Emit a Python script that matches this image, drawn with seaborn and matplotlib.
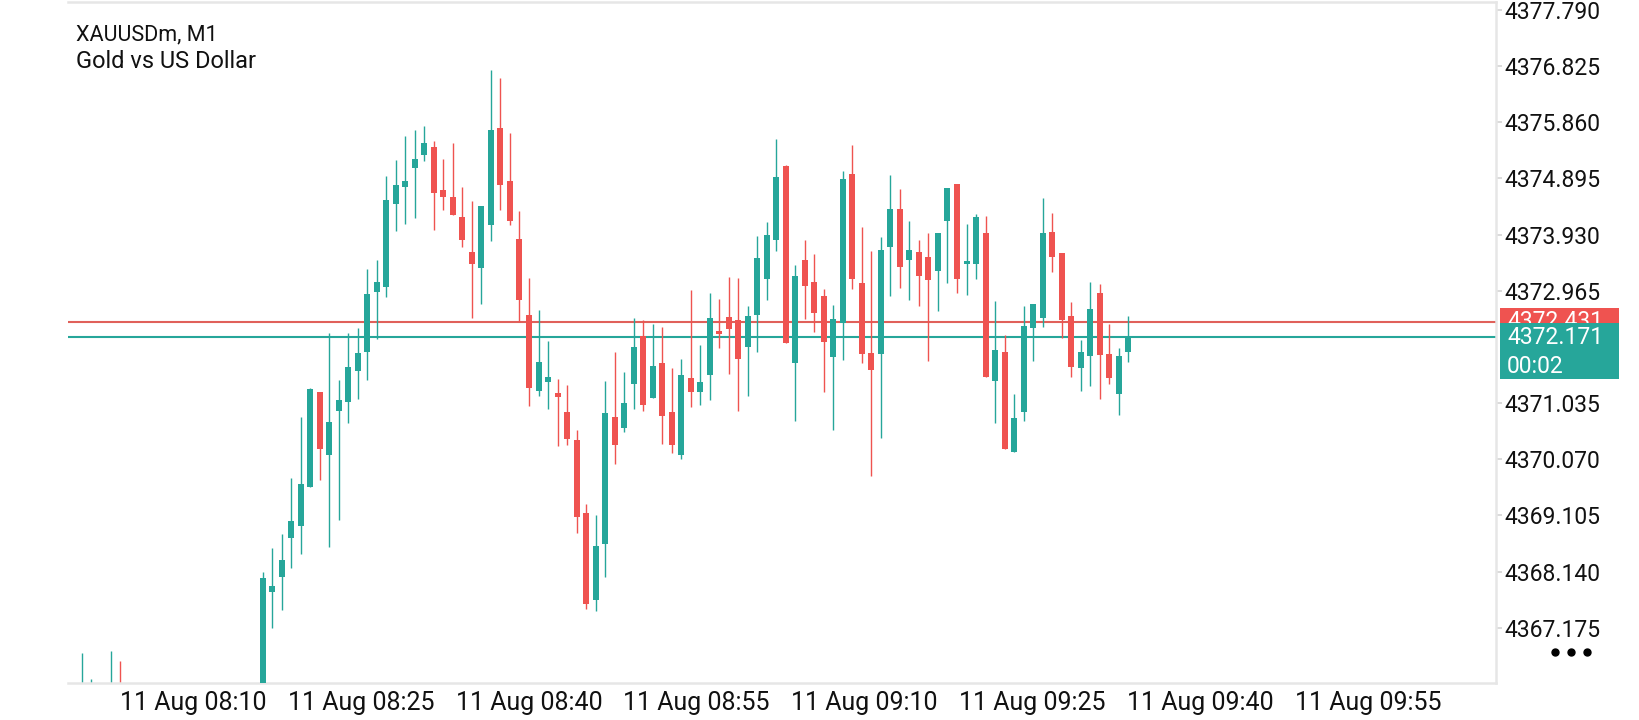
import numpy as np
import pandas as pd
import seaborn as sns
import matplotlib
matplotlib.use('Agg')
import matplotlib.pyplot as plt
from matplotlib.patches import Rectangle
import matplotlib.transforms as mtransforms

# XAUUSDm M1 candles, oldest first. nan = bar sits below the visible price range
opens = [4365.95, 4366.05, np.nan, 4365.98, 4366.12] + [np.nan] * 14 + [
    4365.90, 4367.79, 4368.05, 4368.71, 4368.93, 4369.60, 4371.22, 4370.15, 4370.90, 4371.06,
    4371.59, 4371.92, 4372.94, 4373.03, 4374.46, 4374.75, 4375.07, 4375.30, 4375.43, 4374.70,
    4374.58, 4374.23, 4373.63, 4373.36, 4374.10, 4375.77, 4374.85, 4373.85, 4372.55, 4371.25,
    4371.40, 4371.21, 4370.88, 4370.40, 4369.15, 4367.65, 4368.61, 4370.80, 4370.61, 4371.37,
    4372.18, 4371.13, 4371.72, 4370.88, 4370.15, 4371.47, 4371.23, 4371.51, 4372.28, 4372.51,
    4372.46, 4372.00, 4372.55, 4373.17, 4373.84, 4375.11, 4371.73, 4373.49, 4373.12, 4372.88,
    4371.83, 4372.42, 4374.97, 4373.10, 4371.90, 4371.88, 4373.72, 4374.37, 4373.50, 4373.63,
    4373.55, 4373.31, 4374.17, 4374.80, 4373.43, 4373.43, 4373.96, 4371.42, 4371.91, 4370.20,
    4370.89, 4372.33, 4372.50, 4373.98, 4373.61, 4372.53, 4371.63, 4371.85, 4372.92, 4371.88,
    4371.20, 4371.92]
highs = [4366.74, 4366.29, np.nan, 4366.78, 4366.60] + [np.nan] * 14 + [
    4368.13, 4368.55, 4368.79, 4369.74, 4370.80, 4371.29, 4371.23, 4372.24, 4371.44, 4372.24,
    4372.33, 4373.34, 4373.49, 4374.94, 4375.21, 4375.63, 4375.73, 4375.80, 4375.54, 4375.23,
    4375.51, 4374.75, 4374.51, 4374.42, 4376.76, 4376.62, 4375.68, 4374.34, 4373.19, 4372.64,
    4372.10, 4371.45, 4371.35, 4370.58, 4369.30, 4369.11, 4371.42, 4371.91, 4371.57, 4372.50,
    4372.46, 4372.39, 4372.34, 4371.63, 4371.79, 4372.98, 4372.03, 4372.92, 4372.82, 4373.20,
    4373.19, 4372.71, 4373.91, 4374.15, 4375.57, 4375.12, 4373.41, 4373.84, 4373.60, 4373.00,
    4372.72, 4375.02, 4375.47, 4374.06, 4373.65, 4373.89, 4374.96, 4374.71, 4374.17, 4373.84,
    4373.96, 4373.96, 4374.73, 4374.80, 4374.11, 4374.28, 4374.25, 4372.79, 4372.21, 4371.19,
    4372.70, 4372.74, 4374.56, 4374.30, 4373.61, 4372.77, 4372.12, 4373.12, 4373.08, 4372.39,
    4371.98, 4372.53]
lows = [4365.85, 4365.95, np.nan, 4365.85, 4365.80] + [np.nan] * 14 + [
    4365.80, 4367.17, 4367.48, 4368.20, 4368.45, 4369.59, 4369.72, 4368.56, 4369.03, 4370.70,
    4371.10, 4371.44, 4372.14, 4372.86, 4374.00, 4374.12, 4374.21, 4375.19, 4374.01, 4374.36,
    4374.27, 4373.72, 4372.50, 4372.74, 4373.82, 4374.36, 4374.10, 4372.43, 4370.99, 4371.15,
    4370.94, 4370.29, 4370.32, 4368.81, 4367.50, 4367.47, 4368.05, 4369.99, 4370.53, 4370.94,
    4370.90, 4371.13, 4370.34, 4370.17, 4370.07, 4370.96, 4371.00, 4371.08, 4371.99, 4371.54,
    4370.90, 4371.16, 4371.92, 4372.80, 4373.65, 4372.07, 4370.73, 4372.48, 4372.26, 4371.23,
    4370.58, 4371.78, 4373.00, 4371.72, 4369.79, 4370.43, 4372.88, 4373.02, 4372.81, 4372.71,
    4371.75, 4372.62, 4373.10, 4372.92, 4372.90, 4373.17, 4371.49, 4370.70, 4370.25, 4370.20,
    4370.73, 4371.76, 4372.35, 4373.29, 4372.15, 4371.49, 4371.25, 4371.33, 4371.11, 4371.36,
    4370.83, 4371.74]
closes = [4366.15, 4366.18, np.nan, 4366.12, 4365.90] + [np.nan] * 14 + [
    4368.03, 4367.90, 4368.34, 4369.01, 4369.65, 4371.28, 4370.24, 4370.71, 4371.08, 4371.66,
    4371.90, 4372.91, 4373.11, 4374.53, 4374.78, 4374.85, 4375.23, 4375.51, 4374.64, 4374.57,
    4374.27, 4373.84, 4373.43, 4374.42, 4375.73, 4374.79, 4374.17, 4372.81, 4371.30, 4371.74,
    4371.49, 4371.14, 4370.42, 4369.08, 4367.59, 4368.58, 4370.87, 4370.32, 4371.04, 4372.00,
    4371.01, 4371.67, 4370.82, 4370.32, 4371.52, 4371.23, 4371.39, 4372.50, 4372.23, 4372.31,
    4371.80, 4372.53, 4373.53, 4373.92, 4374.92, 4372.07, 4373.22, 4373.05, 4372.59, 4372.09,
    4372.48, 4374.89, 4373.16, 4371.88, 4371.61, 4373.67, 4374.37, 4373.38, 4373.67, 4373.22,
    4373.15, 4373.96, 4374.73, 4373.17, 4373.48, 4374.23, 4371.49, 4371.95, 4370.25, 4370.78,
    4372.36, 4372.74, 4373.96, 4373.55, 4372.47, 4371.66, 4371.91, 4372.65, 4371.87, 4371.47,
    4371.84, 4372.171]

ask_price = 4372.431
bid_price = 4372.171
countdown = '00:02'
symbol_lines = ['XAUUSDm, M1', 'Gold vs US Dollar']

price_ticks = [4367.175, 4368.140, 4369.105, 4370.070, 4371.035,
               4372.965, 4373.930, 4374.895, 4375.860, 4376.825, 4377.790]
time_labels = ['11 Aug 08:10', '11 Aug 08:25', '11 Aug 08:40', '11 Aug 08:55',
               '11 Aug 09:10', '11 Aug 09:25', '11 Aug 09:40', '11 Aug 09:55']

UP = '#26a69a'
DOWN = '#ef5350'
GRID = '#e6e6e6'

df = pd.DataFrame({'open': opens, 'high': highs, 'low': lows, 'close': closes})
df['bar'] = np.arange(len(df))
df = df.dropna()
df['color'] = np.where(df['close'] >= df['open'], UP, DOWN)
df['body_lo'] = df[['open', 'close']].min(axis=1)
df['body_h'] = (df['close'] - df['open']).abs().clip(lower=0.03)

sns.set_theme(style='white')
plt.rcParams['font.family'] = ['Roboto', 'DejaVu Sans']

fig = plt.figure(figsize=(16.4, 7.2), dpi=100)
ax = fig.add_axes([68 / 1640, 37 / 720, 1428 / 1640, 681 / 720])

# bid / ask lines under the candles
ax.axhline(ask_price, color='#e0605a', lw=1.5, zorder=1)
ax.axhline(bid_price, color=UP, lw=1.5, zorder=1)

ax.vlines(df['bar'], df['low'], df['high'], colors=df['color'], lw=1.0, zorder=2)
ax.bar(df['bar'], df['body_h'], bottom=df['body_lo'], width=0.63,
       color=df['color'], linewidth=0, zorder=3)

ax.set_xlim(-1.47, 148.67)
ax.set_ylim(4366.225, 4377.928)

# time axis: labels start at the tick and run to the right
tick_pos = [3.99, 21.64, 39.28, 56.93, 74.57, 92.22, 109.86, 127.51]
ax.set_xticks(tick_pos)
ax.set_xticklabels(time_labels, ha='left', fontsize=18, color='#111111')
ax.tick_params(axis='x', direction='out', length=4, width=1.5, color='#d4d4d4', pad=2)

ax.yaxis.tick_right()
ax.set_yticks(price_ticks)
ax.set_yticklabels(['%.3f' % p for p in price_ticks], fontsize=16.5, color='#111111')
ax.tick_params(axis='y', direction='out', length=4, width=1.2, color='#d4d4d4', pad=2)

for side in ['top', 'right', 'bottom']:
    ax.spines[side].set_color(GRID)
    ax.spines[side].set_linewidth(1.8)
ax.spines['left'].set_visible(False)
ax.grid(False)

# price labels on the right scale
trans = mtransforms.blended_transform_factory(ax.transAxes, ax.transData)
ax.add_patch(Rectangle((1.0028, ask_price - 0.23), 0.0833, 0.46, transform=trans,
                       color=DOWN, clip_on=False, zorder=10, lw=0))
ax.text(1.0077, ask_price, '%.3f' % ask_price, transform=trans, color='white',
        fontsize=16.5, va='center', ha='left', clip_on=False, zorder=11)
ax.add_patch(Rectangle((1.0028, bid_price - 0.727), 0.0833, 0.962, transform=trans,
                       color=UP, clip_on=False, zorder=12, lw=0))
ax.text(1.0077, bid_price, '%.3f' % bid_price, transform=trans, color='white',
        fontsize=16.5, va='center', ha='left', clip_on=False, zorder=13)
ax.text(1.0077, bid_price - 0.512, countdown, transform=trans, color='white',
        fontsize=16.5, va='center', ha='left', clip_on=False, zorder=13)

# menu dots bottom right
ax.plot([1.0413, 1.0525, 1.0637], [0.0455] * 3, 'o', color='black', ms=5,
        transform=ax.transAxes, clip_on=False)

fig.text(76 / 1640, 1 - 34.5 / 720, symbol_lines[0], fontsize=15.5, color='#111111', va='center')
fig.text(76 / 1640, 1 - 61.7 / 720, symbol_lines[1], fontsize=17, color='#111111', va='center')

fig.savefig('out.png', dpi=100)
